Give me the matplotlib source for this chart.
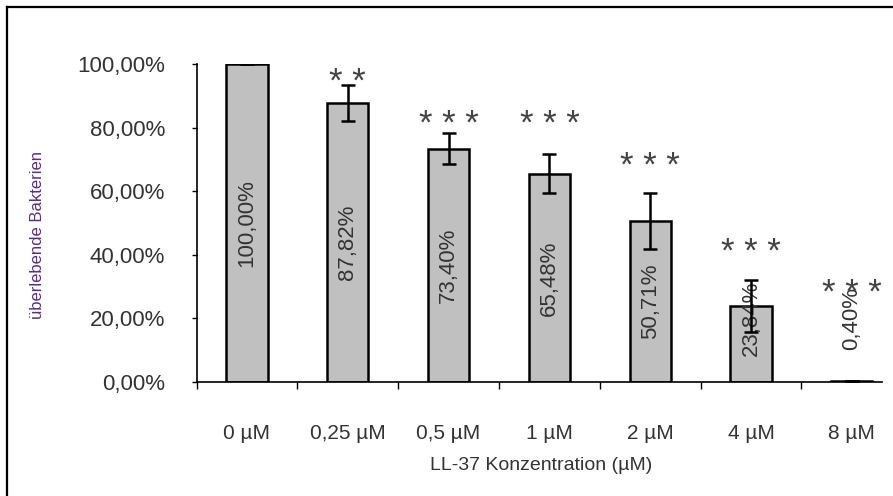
import matplotlib.pyplot as plt
from matplotlib.lines import Line2D

plt.rcParams['font.family'] = ['Liberation Sans', 'DejaVu Sans']

concentrations = ["0 µM", "0,25 µM", "0,5 µM", "1 µM", "2 µM", "4 µM", "8 µM"]
survival = [100.00, 87.82, 73.40, 65.48, 50.71, 23.84, 0.40]
survival_err = [0.0, 5.6, 4.9, 6.1, 8.8, 8.2, 0.0]
bar_labels = ["100,00%", "87,82%", "73,40%", "65,48%", "50,71%", "23,84%", "0,40%"]
stars = ["", "* *", "* * *", "* * *", "* * *", "* * *", "* * *"]
star_y = [0, 97.2, 84.0, 84.0, 70.8, 44.0, 31.1]
yticks = [0, 20, 40, 60, 80, 100]

W, H = 893, 496
fig = plt.figure(figsize=(W / 100, H / 100), dpi=100)
fig.patch.set_facecolor("white")

# plot area in pixels: x 196.6 -> 882, y 64 -> 382
ax = fig.add_axes([196.6 / W, (H - 382) / H, (882 - 196.6) / W, (382 - 64) / H])
x = list(range(len(concentrations)))

ax.bar(x, survival, width=0.41, color="#c0c0c0", edgecolor="black", linewidth=1.8, zorder=2)

# value labels, rotated, inside the bars
for i, (v, lab) in enumerate(zip(survival, bar_labels)):
    yc = v / 2 if v > 40 else 20.1
    ax.text(i, yc, lab, rotation=90, ha="center", va="center", fontsize=16,
            color="#333333", zorder=3)

ax.errorbar(x, survival, yerr=survival_err, fmt="none", ecolor="black",
            elinewidth=1.8, capsize=5, capthick=1.8, zorder=4)

# significance stars, star_y is the centre of the star glyphs
for i, (s, yv) in enumerate(zip(stars, star_y)):
    if s:
        ax.annotate(s, xy=(i, yv), xytext=(0, -14), textcoords="offset points",
                    ha="center", va="baseline", fontsize=25, color="#444444",
                    annotation_clip=False)

ax.set_xlim(-0.5, 6.3)
ax.set_ylim(0, 100)
ax.set_yticks(yticks)
ax.set_yticklabels([f"{t},00%" for t in yticks], fontsize=16, color="#333333")
ax.tick_params(axis="y", direction="out", length=3.6, width=1, pad=19)

# category ticks sit between the bars, names under the bars
ax.set_xticks([i - 0.5 for i in x])
ax.set_xticklabels([])
ax.set_xticks(x, minor=True)
ax.set_xticklabels(concentrations, minor=True, fontsize=15, color="#333333")
ax.tick_params(axis="x", which="major", direction="out", length=5, width=1)
ax.tick_params(axis="x", which="minor", length=0, pad=30)

for side in ["top", "right"]:
    ax.spines[side].set_visible(False)
for side in ["left", "bottom"]:
    ax.spines[side].set_linewidth(1.2)
ax.set_facecolor("none")

fig.text(541 / W, 1 - 465 / H, "LL-37 Konzentration (µM)", ha="center", va="center",
         fontsize=14, color="#333333")
fig.text(38 / W, 1 - 235 / H, "überlebende Bakterien", rotation=90, ha="center",
         va="center", fontsize=12, color="#5a2d82")

# frame on the left and top edge of the picture
bx, by = 6.5 / W, 1 - 6.5 / H
fig.add_artist(Line2D([bx, bx], [0, by], color="black", linewidth=1.6))
fig.add_artist(Line2D([bx, 1], [by, by], color="black", linewidth=1.6))

fig.savefig("out.png", dpi=100)
